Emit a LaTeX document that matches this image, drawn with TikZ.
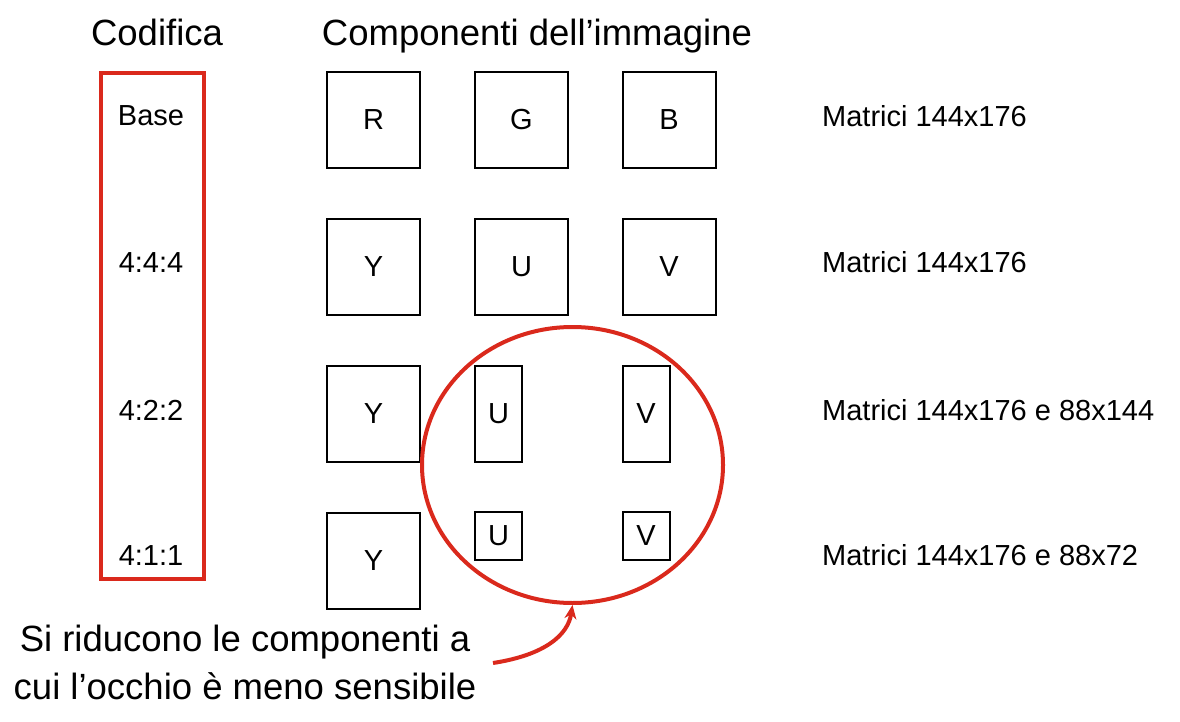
\documentclass[tikz,border=0pt]{standalone}
\usepackage{fontspec}
\setmainfont{Liberation Sans}
\usetikzlibrary{shapes.geometric,arrows.meta}
\definecolor{redline}{RGB}{218,41,28}
\tikzset{
  title/.style={font=\fontsize{36.5}{44}\selectfont, anchor=base, inner sep=0pt},
  lbl/.style={font=\fontsize{29}{35}\selectfont, anchor=base, inner sep=0pt},
  comp/.style={draw=black, line width=2pt, inner sep=0pt, font=\fontsize{29}{35}\selectfont,
               minimum width=93pt, minimum height=96pt},
  half/.style={comp, minimum width=47pt},
  quarter/.style={comp, minimum width=47pt, minimum height=48pt},
}
\begin{document}
\begin{tikzpicture}[x=1pt,y=-1pt]
\useasboundingbox (0,0) rectangle (1180,722);
% titles
\node[title] (tcod) at (157,46) {Codifica};
\node[title] (tcomp) at (537,46) {Componenti dell’immagine};
% red box
\node[draw=redline, line width=4pt, minimum width=103pt, minimum height=506pt, inner sep=0pt] (codbox) at (152.5,326) {};
\node[lbl] (base) at (151,126) {Base};
\node[lbl] (c444) at (151,272) {4:4:4};
\node[lbl] (c422) at (151,420) {4:2:2};
\node[lbl] (c411) at (151,565) {4:1:1};
% row 1
\node[comp] (r) at (373.5,120) {R};
\node[comp] (g) at (521.5,120) {G};
\node[comp] (b) at (669,120) {B};
% row 2
\node[comp] (y2) at (373.5,267) {Y};
\node[comp] (u2) at (521.5,267) {U};
\node[comp] (v2) at (669,267) {V};
% row 3
\node[comp] (y3) at (373.5,414) {Y};
\node[half] (u3) at (498.5,414) {U};
\node[half] (v3) at (646,414) {V};
% row 4
\node[comp] (y4) at (373.5,561) {Y};
\node[quarter] (u4) at (498.5,536) {U};
\node[quarter] (v4) at (646,536) {V};
% right labels
\node[lbl, anchor=base west] (m1) at (822,127) {Matrici 144x176};
\node[lbl, anchor=base west] (m2) at (822,272) {Matrici 144x176};
\node[lbl, anchor=base west] (m3) at (822,420) {Matrici 144x176 e 88x144};
\node[lbl, anchor=base west] (m4) at (822,565) {Matrici 144x176 e 88x72};
% ellipse
\node[draw=redline, line width=4pt, ellipse, minimum width=301pt, minimum height=276pt, inner sep=0pt] (eye) at (572.5,465) {};
% note
\node[font=\fontsize{36.5}{48}\selectfont, align=center, anchor=north, inner sep=0pt] (note) at (245,625)
  {Si riducono le componenti a\\cui l’occhio è meno sensibile};
\coordinate (tail) at (493,663);
\draw[redline, line width=4pt, -{Stealth[length=14pt,width=12pt]}] (tail) .. controls (545,655) and (568,635) .. (eye.south);
\end{tikzpicture}
\end{document}
